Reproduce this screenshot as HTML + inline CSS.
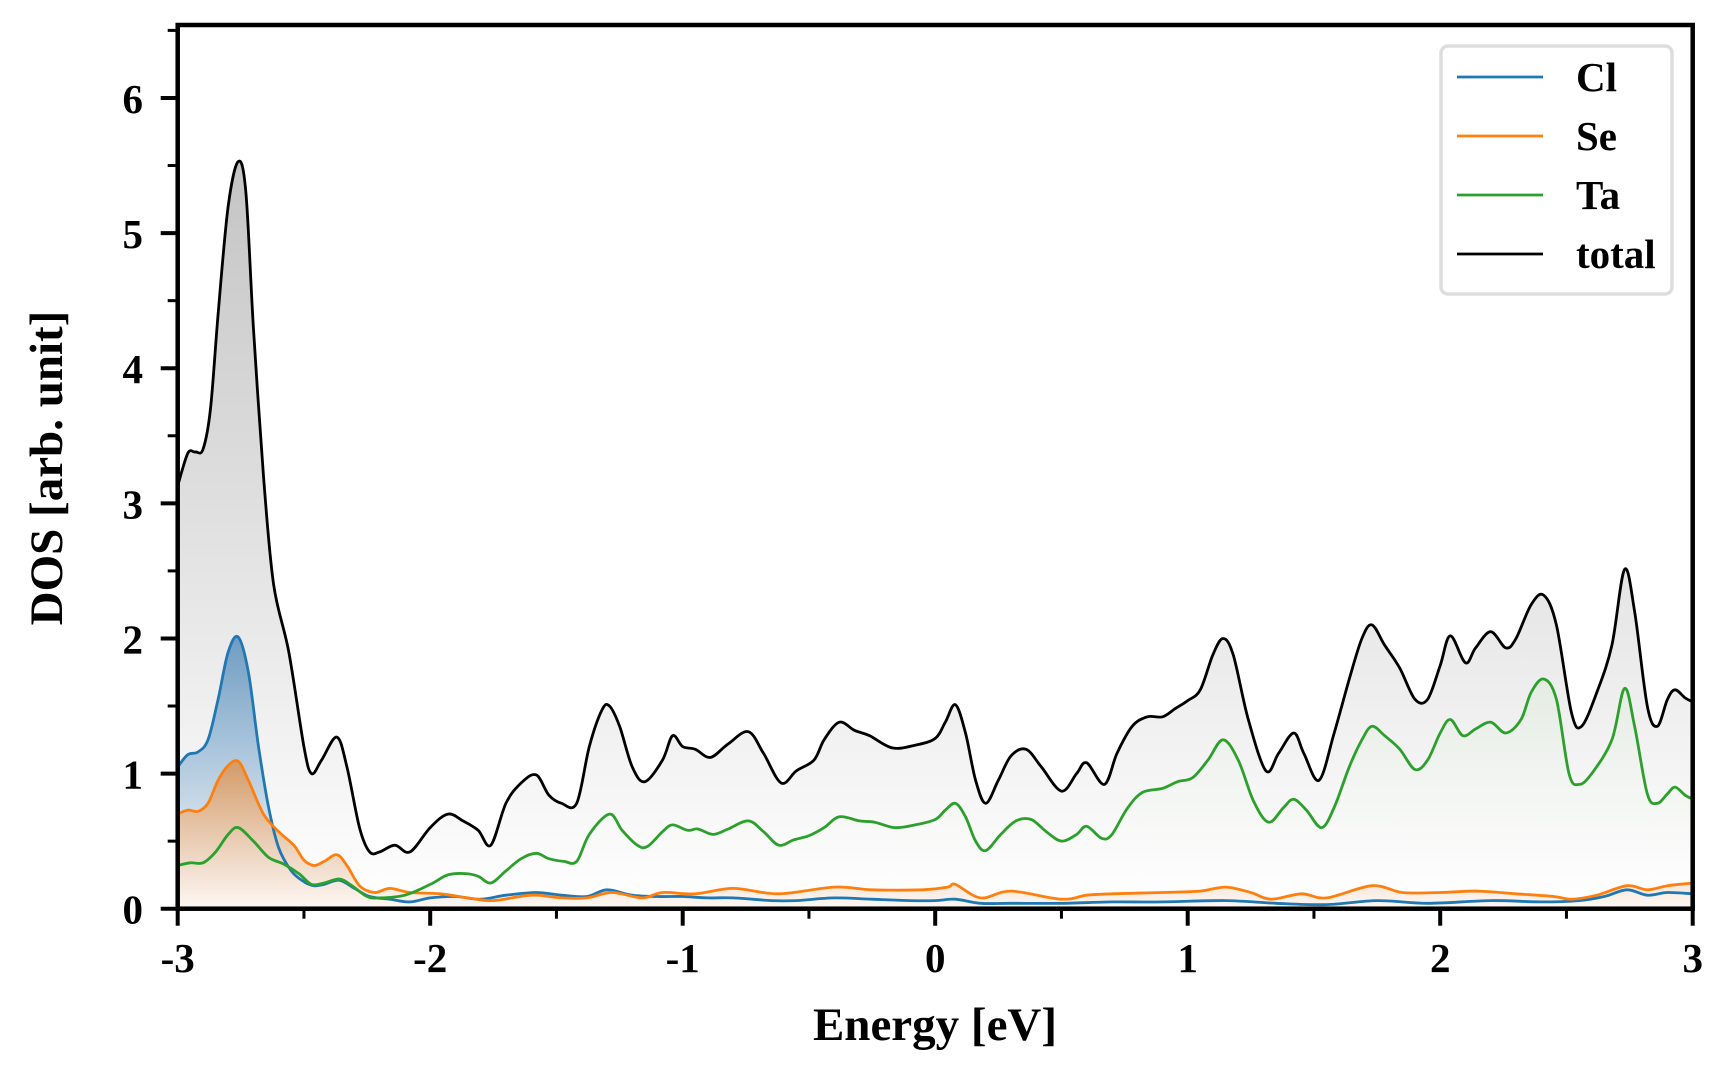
<!DOCTYPE html>
<html><head><meta charset="utf-8"><style>
html,body{margin:0;padding:0;background:#fff;}
svg{display:block;font-family:"Liberation Serif",serif;font-weight:bold;}
</style></head><body>
<svg id="chart" width="1728" height="1080" viewBox="0 0 1728 1080" xmlns="http://www.w3.org/2000/svg">
<defs>
<linearGradient id="gTot" gradientUnits="userSpaceOnUse" x1="0" y1="160" x2="0" y2="909"><stop offset="0" stop-color="#c4c4c4"/><stop offset="1" stop-color="#ffffff"/></linearGradient>
<linearGradient id="gCl" gradientUnits="userSpaceOnUse" x1="0" y1="636" x2="0" y2="909"><stop offset="0" stop-color="#6f9cc2"/><stop offset="1" stop-color="#ffffff"/></linearGradient>
<linearGradient id="gSe" gradientUnits="userSpaceOnUse" x1="0" y1="760" x2="0" y2="909"><stop offset="0" stop-color="#d29a68"/><stop offset="1" stop-color="#fdf8f4"/></linearGradient>
<linearGradient id="gTa" gradientUnits="userSpaceOnUse" x1="0" y1="680" x2="0" y2="909"><stop offset="0" stop-color="#e4ece2"/><stop offset="1" stop-color="#ffffff" stop-opacity="0"/></linearGradient>
</defs>
<g id="plot"></g>
<g id="axes"></g>
<g>
<rect x="1441" y="46" width="231" height="248" rx="7" fill="#fff" stroke="#dddddd" stroke-width="3.5"/>
<g><line x1="1457" y1="77" x2="1543" y2="77" stroke="#1f77b4" stroke-width="2.8"/><text x="1576" y="91" font-size="41">Cl</text></g>
<g><line x1="1457" y1="136" x2="1543" y2="136" stroke="#ff7f0e" stroke-width="2.8"/><text x="1576" y="150" font-size="41">Se</text></g>
<g><line x1="1457" y1="195" x2="1543" y2="195" stroke="#2ca02c" stroke-width="2.8"/><text x="1576" y="209" font-size="41">Ta</text></g>
<g><line x1="1457" y1="254" x2="1543" y2="254" stroke="#000" stroke-width="2.8"/><text x="1576" y="268" font-size="41">total</text></g>
</g>
<text x="935" y="1040" font-size="47" text-anchor="middle">Energy [eV]</text>
<text transform="translate(62,468) rotate(-90)" font-size="47" text-anchor="middle">DOS [arb. unit]</text>
</svg>
<script>
const totalE=[-3,-2.96,-2.93,-2.9,-2.87,-2.84,-2.8,-2.76,-2.73,-2.7,-2.66,-2.62,-2.56,-2.5,-2.47,-2.43,-2.37,-2.33,-2.28,-2.24,-2.2,-2.14,-2.08,-2,-1.93,-1.87,-1.81,-1.76,-1.7,-1.64,-1.58,-1.53,-1.48,-1.42,-1.37,-1.32,-1.29,-1.25,-1.2,-1.15,-1.08,-1.04,-1,-0.95,-0.89,-0.82,-0.74,-0.68,-0.61,-0.55,-0.48,-0.44,-0.38,-0.32,-0.26,-0.17,-0.08,0,0.04,0.08,0.12,0.16,0.2,0.25,0.3,0.36,0.42,0.5,0.56,0.6,0.67,0.72,0.78,0.84,0.9,0.95,1,1.05,1.1,1.14,1.18,1.24,1.31,1.36,1.42,1.46,1.52,1.58,1.64,1.69,1.73,1.78,1.84,1.9,1.95,2,2.04,2.1,2.14,2.2,2.26,2.3,2.36,2.41,2.46,2.52,2.56,2.62,2.68,2.73,2.77,2.82,2.86,2.9,2.93,2.97,3];
const totalV=[3.13,3.37,3.38,3.4,3.7,4.4,5.2,5.53,5.3,4.3,3.2,2.4,1.9,1.2,1.0,1.1,1.27,1.05,0.6,0.42,0.42,0.47,0.42,0.6,0.7,0.65,0.58,0.47,0.78,0.93,0.99,0.84,0.78,0.78,1.2,1.47,1.5,1.35,1.05,0.94,1.1,1.28,1.2,1.18,1.12,1.22,1.31,1.15,0.93,1.02,1.1,1.25,1.38,1.32,1.28,1.19,1.21,1.26,1.38,1.51,1.3,0.95,0.78,0.95,1.13,1.18,1.05,0.87,1.0,1.08,0.92,1.15,1.35,1.42,1.42,1.48,1.54,1.62,1.88,2.0,1.88,1.4,1.02,1.15,1.3,1.15,0.95,1.3,1.7,2.0,2.1,1.95,1.78,1.55,1.55,1.8,2.02,1.82,1.93,2.05,1.93,2.0,2.25,2.32,2.1,1.45,1.35,1.6,1.95,2.51,2.2,1.5,1.35,1.55,1.62,1.56,1.53];
const taE=[-3,-2.95,-2.9,-2.85,-2.8,-2.76,-2.7,-2.64,-2.58,-2.52,-2.47,-2.42,-2.36,-2.31,-2.25,-2.2,-2.1,-2,-1.93,-1.86,-1.81,-1.76,-1.7,-1.64,-1.58,-1.53,-1.47,-1.42,-1.37,-1.29,-1.24,-1.18,-1.14,-1.08,-1.04,-0.98,-0.94,-0.88,-0.82,-0.74,-0.68,-0.62,-0.56,-0.5,-0.44,-0.38,-0.3,-0.24,-0.16,-0.08,0,0.04,0.08,0.12,0.16,0.2,0.26,0.32,0.38,0.44,0.5,0.56,0.6,0.66,0.7,0.76,0.82,0.9,0.96,1.02,1.08,1.14,1.2,1.26,1.32,1.38,1.42,1.47,1.53,1.58,1.64,1.69,1.73,1.78,1.84,1.9,1.95,2,2.04,2.09,2.14,2.2,2.26,2.32,2.36,2.41,2.46,2.51,2.55,2.6,2.68,2.73,2.77,2.82,2.86,2.9,2.93,2.97,3];
const taV=[0.32,0.34,0.34,0.42,0.55,0.6,0.5,0.38,0.33,0.26,0.18,0.19,0.22,0.17,0.09,0.08,0.1,0.18,0.25,0.26,0.24,0.19,0.28,0.37,0.41,0.37,0.35,0.35,0.55,0.7,0.58,0.47,0.46,0.57,0.62,0.58,0.59,0.55,0.59,0.65,0.57,0.47,0.51,0.54,0.6,0.68,0.65,0.64,0.6,0.62,0.66,0.73,0.78,0.68,0.5,0.43,0.55,0.65,0.66,0.57,0.5,0.55,0.61,0.52,0.55,0.74,0.86,0.89,0.94,0.97,1.1,1.25,1.1,0.8,0.64,0.75,0.81,0.73,0.6,0.75,1.05,1.25,1.35,1.28,1.18,1.03,1.1,1.3,1.4,1.28,1.33,1.38,1.3,1.4,1.6,1.7,1.55,1.0,0.92,1.0,1.25,1.63,1.35,0.85,0.78,0.85,0.9,0.84,0.81];
const clE=[-3,-2.96,-2.92,-2.88,-2.84,-2.8,-2.76,-2.72,-2.68,-2.64,-2.6,-2.55,-2.5,-2.46,-2.42,-2.36,-2.3,-2.24,-2.16,-2.08,-2,-1.9,-1.8,-1.7,-1.58,-1.48,-1.38,-1.3,-1.2,-1.1,-1,-0.9,-0.8,-0.65,-0.55,-0.4,-0.25,-0.1,0,0.08,0.18,0.3,0.5,0.7,0.9,1.15,1.35,1.55,1.75,1.95,2.2,2.4,2.55,2.65,2.74,2.82,2.9,3];
const clV=[1.05,1.14,1.16,1.25,1.55,1.9,2.01,1.75,1.2,0.75,0.45,0.28,0.2,0.17,0.18,0.21,0.15,0.09,0.07,0.05,0.08,0.09,0.07,0.1,0.12,0.1,0.09,0.14,0.1,0.09,0.09,0.08,0.08,0.06,0.06,0.08,0.07,0.06,0.06,0.07,0.04,0.04,0.04,0.05,0.05,0.06,0.04,0.03,0.06,0.04,0.06,0.05,0.06,0.09,0.14,0.1,0.12,0.11];
const seE=[-3,-2.96,-2.92,-2.88,-2.84,-2.8,-2.76,-2.72,-2.66,-2.6,-2.54,-2.5,-2.46,-2.42,-2.37,-2.33,-2.28,-2.22,-2.16,-2.08,-1.96,-1.85,-1.75,-1.6,-1.48,-1.38,-1.28,-1.16,-1.08,-0.95,-0.8,-0.62,-0.4,-0.25,-0.05,0.05,0.08,0.18,0.3,0.5,0.6,0.7,0.9,1.05,1.15,1.25,1.33,1.45,1.55,1.73,1.85,2,2.15,2.3,2.45,2.52,2.62,2.74,2.82,2.9,3];
const seV=[0.7,0.73,0.72,0.78,0.95,1.06,1.09,0.95,0.7,0.57,0.47,0.36,0.32,0.35,0.4,0.32,0.17,0.12,0.15,0.12,0.11,0.08,0.06,0.1,0.08,0.08,0.12,0.08,0.12,0.11,0.15,0.11,0.16,0.14,0.14,0.16,0.18,0.08,0.13,0.07,0.1,0.11,0.12,0.13,0.16,0.12,0.07,0.11,0.08,0.17,0.12,0.12,0.13,0.11,0.09,0.07,0.1,0.17,0.14,0.17,0.19];
const xTicks=[-3,-2,-1,0,1,2,3];
const yTicks=[0,1,2,3,4,5,6];

const X0=177.7,X1=1692.7,Y0=908.7,YT=25,XMIN=-3,XMAX=3,YMAX=6.54;
function sx(e){return X0+(e-XMIN)/(XMAX-XMIN)*(X1-X0);}
function sy(v){return Y0-v/YMAX*(Y0-YT);}
function smooth(E,V){
  const p=E.map((e,i)=>[sx(e),sy(V[i])]);
  let d='M'+p[0][0].toFixed(1)+','+p[0][1].toFixed(1);
  for(let i=0;i<p.length-1;i++){
    const a=p[i-1]||p[i],b=p[i],c=p[i+1],n=p[i+2]||c;
    const c1=[b[0]+(c[0]-a[0])/6,b[1]+(c[1]-a[1])/6];
    const c2=[c[0]-(n[0]-b[0])/6,c[1]-(n[1]-b[1])/6];
    d+='C'+c1[0].toFixed(1)+','+c1[1].toFixed(1)+' '+c2[0].toFixed(1)+','+c2[1].toFixed(1)+' '+c[0].toFixed(1)+','+c[1].toFixed(1);
  }
  return d;
}
const NS='http://www.w3.org/2000/svg';
const plot=document.getElementById('plot');
const axes=document.getElementById('axes');
function mk(tag,attrs,parent){const el=document.createElementNS(NS,tag);for(const k in attrs)el.setAttribute(k,attrs[k]);parent.appendChild(el);return el;}
function area(E,V,fill,name){
  const d=smooth(E,V)+'L'+sx(E[E.length-1]).toFixed(1)+','+Y0+'L'+sx(E[0]).toFixed(1)+','+Y0+'Z';
  const el=mk('path',{d:d,fill:fill,stroke:'none'},plot);
  
  
}
function line(E,V,col,name){
  const el=mk('path',{d:smooth(E,V),fill:'none',stroke:col,'stroke-width':2.8,'stroke-linejoin':'round'},plot);
  
  
}
area(totalE,totalV,'url(#gTot)','total-fill');
area(taE,taV,'url(#gTa)','ta-fill');
area(clE,clV,'url(#gCl)','cl-fill');
area(seE,seV,'url(#gSe)','se-fill');
line(clE,clV,'#1f77b4','cl-line');
line(seE,seV,'#ff7f0e','se-line');
line(taE,taV,'#2ca02c','ta-line');
line(totalE,totalV,'#000','total-line');

const fr=mk('rect',{x:X0,y:YT,width:X1-X0,height:Y0-YT,fill:'none',stroke:'#000','stroke-width':4.5},axes);


xTicks.forEach(t=>{
  const x=sx(t);
  const tk=mk('line',{x1:x,y1:Y0,x2:x,y2:Y0+17,stroke:'#000','stroke-width':4},axes);
  
  
  const lb=mk('text',{x:x,y:972,'font-size':41,'text-anchor':'middle'},axes);
  lb.textContent=String(t);
  
  
  if(t<XMAX){
    const m=mk('line',{x1:sx(t+0.5),y1:Y0,x2:sx(t+0.5),y2:Y0+10,stroke:'#000','stroke-width':3},axes);
    
    
  }
});
yTicks.forEach(t=>{
  const y=sy(t);
  const tk=mk('line',{x1:X0-17,y1:y,x2:X0,y2:y,stroke:'#000','stroke-width':4},axes);
  
  
  const lb=mk('text',{x:143,y:y+15,'font-size':41,'text-anchor':'end'},axes);
  lb.textContent=String(t);
  
  
  const m=mk('line',{x1:X0-10,y1:sy(t+0.5),x2:X0,y2:sy(t+0.5),stroke:'#000','stroke-width':3},axes);
  
  
});
</script>
</body></html>
